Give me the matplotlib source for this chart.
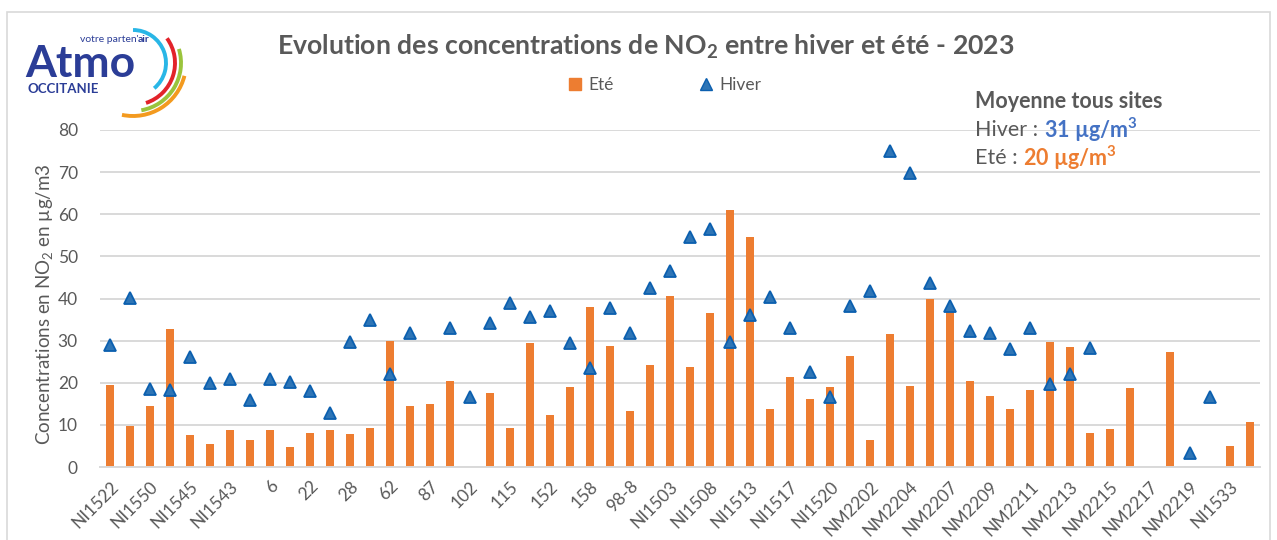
import numpy as np
import matplotlib
matplotlib.use("Agg")
import matplotlib.pyplot as plt
from matplotlib.patches import Arc, Rectangle
from matplotlib.lines import Line2D

plt.rcParams['font.family'] = ['Lato', 'DejaVu Sans']
plt.rcParams['mathtext.fontset'] = 'custom'
plt.rcParams['mathtext.rm'] = 'Lato'
plt.rcParams['mathtext.bf'] = 'Lato:bold'

nan = np.nan

# sites labelled on the axis (one label every two sites)
tick_labels = ['NI1522', 'NI1550', 'NI1545', 'NI1543', '6', '22', '28', '62', '87',
               '102', '115', '152', '158', '98-8', 'NI1503', 'NI1508', 'NI1513',
               'NI1517', 'NI1520', 'NM2202', 'NM2204', 'NM2207', 'NM2209', 'NM2211',
               'NM2213', 'NM2215', 'NM2217', 'NM2219', 'NI1533']

# été (bars)
ete = [19.4, 9.7, 14.4, 32.7, 7.5, 5.4, 8.7, 6.3, 8.7, 4.7,
       8.0, 8.7, 7.8, 9.2, 29.9, 14.4, 14.9, 20.4, nan, 17.5,
       9.2, 29.4, 12.3, 18.9, 37.9, 28.7, 13.2, 24.2, 40.6, 23.7,
       36.5, 61.0, 54.6, 13.7, 21.3, 16.1, 18.9, 26.3, 6.3, 31.5,
       19.2, 39.8, 37.2, 20.4, 16.8, 13.7, 18.2, 29.7, 28.4, 8.0,
       9.0, 18.7, nan, 27.2, nan, nan, 4.9, 10.6]

# hiver (triangles)
hiver = [28.9, 40.2, 18.6, 18.2, 26.0, 20.0, 21.0, 16.0, 21.0, 20.2,
         18.0, 12.9, 29.7, 35.0, 22.0, 31.7, nan, 32.9, 16.5, 34.3,
         39.0, 35.5, 37.0, 29.5, 23.6, 37.8, 31.8, 42.6, 46.6, 54.5,
         56.4, 29.7, 36.2, 40.4, 33.1, 22.6, 16.5, 38.3, 41.8, 74.9,
         69.9, 43.6, 38.3, 32.3, 31.7, 28.1, 33.1, 19.8, 22.0, 28.3,
         nan, nan, nan, nan, 3.4, 16.6, nan, nan]

moy_hiver = 31
moy_ete = 20

ORANGE = '#ED7D31'
BLUE = '#2E75B6'
GREY = '#595959'
GRID = '#D9D9D9'

W, H = 1277, 540
fig = plt.figure(figsize=(W / 100, H / 100), dpi=100)

# cadre du graphique
fig.patches.append(Rectangle((7 / W, -0.01), 1263 / W, 1 - 12 / H + 0.01,
                             transform=fig.transFigure, fill=False,
                             edgecolor=GRID, linewidth=1.2))

ax = fig.add_axes([100 / W, 73 / H, 1160 / W, 337 / H])
x = np.arange(len(ete))
ax.bar(x, ete, width=0.42, color=ORANGE, zorder=2, label='Eté')
ax.plot(x, hiver, linestyle='none', marker='^', markersize=9,
        markerfacecolor=BLUE, markeredgecolor='#0B5FAF', markeredgewidth=1.3,
        zorder=3, label='Hiver')

ax.set_xlim(-0.5, len(ete) - 0.5)
ax.set_ylim(0, 80)
ax.set_yticks(np.arange(0, 81, 10))
ax.yaxis.grid(True, color=GRID, linewidth=1.4)
ax.set_axisbelow(True)
for s in ['top', 'right', 'left']:
    ax.spines[s].set_visible(False)
ax.spines['bottom'].set_color(GRID)
ax.spines['bottom'].set_linewidth(1.4)

ax.set_xticks(x[::2])
ax.set_xticklabels(tick_labels, rotation=45, ha='right', rotation_mode='anchor',
                   fontsize=12.5, color=GREY)
ax.tick_params(axis='x', length=0, pad=8)
ax.tick_params(axis='y', length=0, pad=16, labelsize=12.5, labelcolor=GREY)

ax.set_ylabel('Concentrations en NO$_2$ en µg/m3', fontsize=13.5, color=GREY)
ax.yaxis.set_label_coords(-0.038, 0.484)

fig.text(646 / W, 1 - 47 / H, 'Evolution des concentrations de NO$\\mathbf{_2}$ entre hiver et été - 2023',
         ha='center', va='center', fontsize=19.2, fontweight='bold', color=GREY)

handles = [Rectangle((0, 0), 1, 1, color=ORANGE),
           Line2D([], [], linestyle='none', marker='^', markersize=8,
                  markerfacecolor=BLUE, markeredgecolor='#0B5FAF')]
leg = ax.legend(handles, ['Eté', 'Hiver'], loc='center', ncol=2,
                bbox_to_anchor=(665 / W, 1 - 85 / H), bbox_transform=fig.transFigure,
                frameon=False, fontsize=12.5, handlelength=0.7, handletextpad=0.4,
                columnspacing=5)
for t in leg.get_texts():
    t.set_color(GREY)

# moyennes
FS = 15.5
fig.text(975 / W, 1 - 102 / H, 'Moyenne tous sites', fontsize=FS, fontweight='bold',
         color=GREY, va='center')
t1 = fig.text(975 / W, 1 - 130 / H, 'Hiver : ', fontsize=FS, color=GREY, va='center')
fig.canvas.draw()
r = fig.canvas.get_renderer()
bb = t1.get_window_extent(r)
fig.text(bb.x1 / W, 1 - 130 / H, '%d µg/m$\\mathbf{^3}$' % moy_hiver, fontsize=FS,
         fontweight='bold', color='#4472C4', va='center')
t2 = fig.text(975 / W, 1 - 158 / H, 'Eté : ', fontsize=FS, color=GREY, va='center')
bb = t2.get_window_extent(r)
fig.text(bb.x1 / W, 1 - 158 / H, '%d µg/m$\\mathbf{^3}$' % moy_ete, fontsize=FS,
         fontweight='bold', color=ORANGE, va='center')

# logo Atmo Occitanie (coordonnées en pixels, y vers le haut)
lax = fig.add_axes([0, 1 - 120 / H, 200 / W, 120 / H])
lax.set_xlim(0, 200)
lax.set_ylim(0, 120)
lax.axis('off')
NAVY = '#2B3D97'
lax.text(25, 120 - 77, 'Atmo', fontsize=32, fontweight='bold', color=NAVY,
         va='baseline', ha='left')
lax.text(80, 120 - 40, "votre parten'", fontsize=7.5, color=NAVY, va='center', ha='left')
lax.text(138, 120 - 40, 'air', fontsize=7.5, fontweight='bold', color=NAVY,
         va='center', ha='left')
lax.text(27, 120 - 89, 'OCCITANIE', fontsize=9.5, fontweight='bold', color=NAVY,
         va='center', ha='left')
for rad, a0, a1, col in [(33, -50, 90, '#29B6E6'), (42, -72, 36, '#E2232A'),
                         (48, -80, 17, '#9AC43C'), (53, -102, -14, '#F39A1F')]:
    lax.add_patch(Arc((133, 120 - 63), 2 * rad, 2 * rad, theta1=a0, theta2=a1,
                      color=col, linewidth=2.8))

fig.savefig('out.png', dpi=100)
